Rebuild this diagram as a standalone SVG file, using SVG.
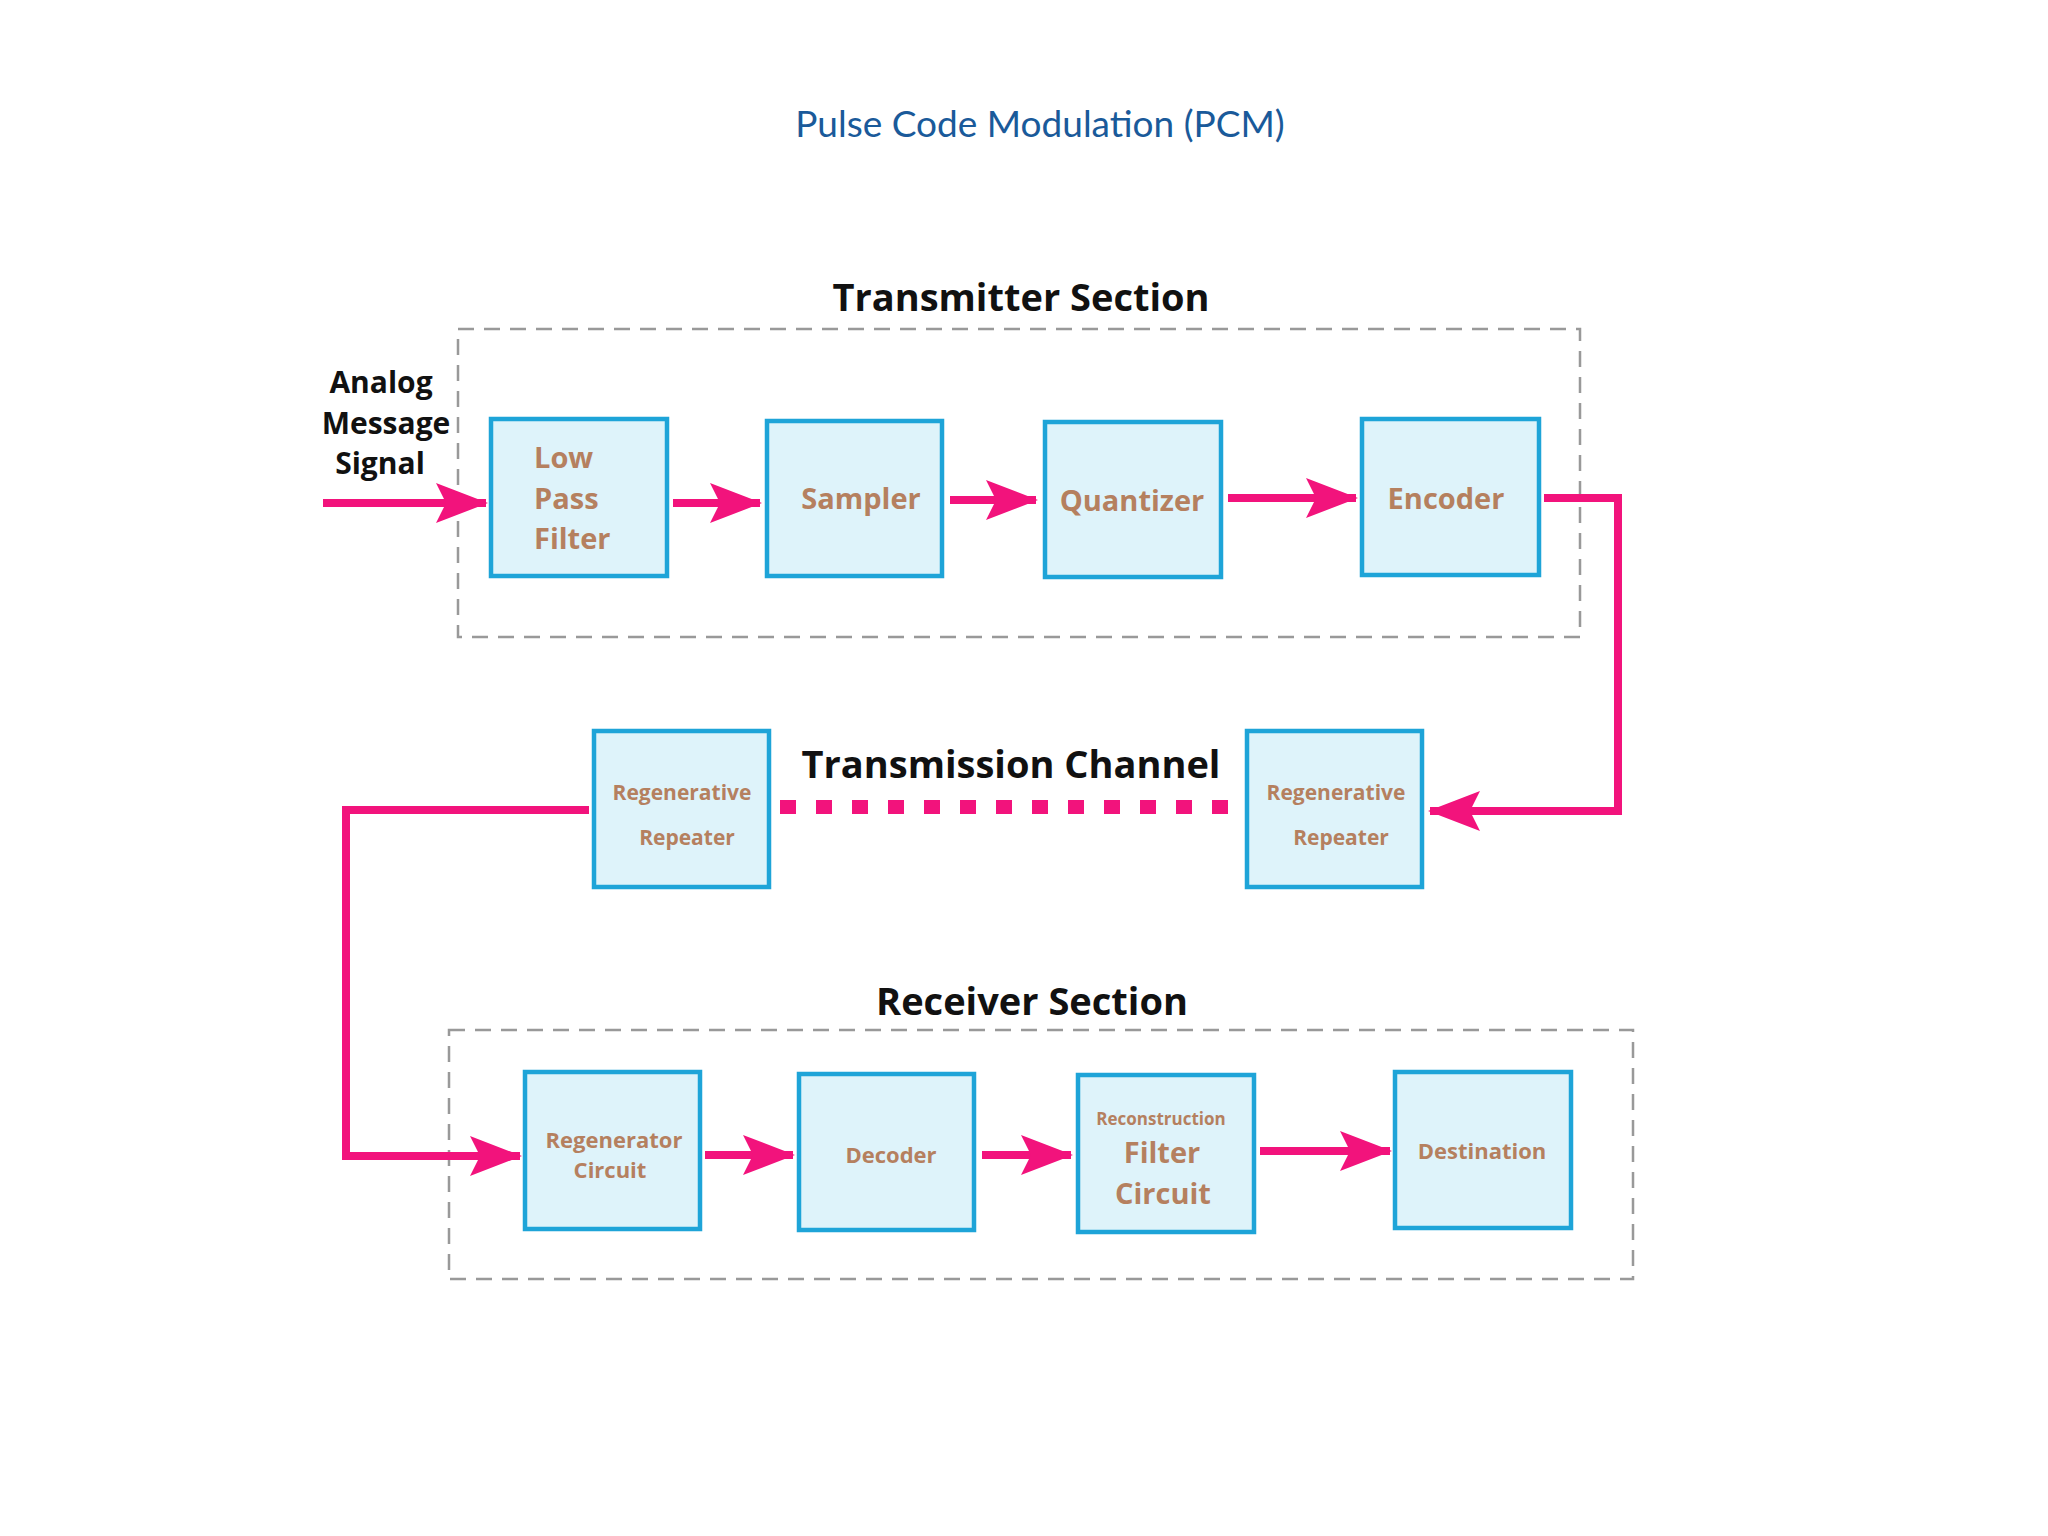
<svg xmlns="http://www.w3.org/2000/svg" width="2048" height="1536" viewBox="0 0 2048 1536">
<style>
.box{fill:#def3fa;stroke:#1ea4d8;stroke-width:4.5}
.sec{fill:none;stroke:#999;stroke-width:2.5;stroke-dasharray:16 10}
.bt{font-family:"Open Sans",sans-serif;font-weight:bold;fill:#b5805f;text-anchor:middle}
.hd{font-family:"Open Sans",sans-serif;font-weight:bold;fill:#111;text-anchor:middle;font-size:38px}
.ln{fill:none;stroke:#f2137c;stroke-width:8}
</style>
<defs>
<marker id="ah" markerUnits="userSpaceOnUse" markerWidth="52" markerHeight="40" refX="50" refY="20" orient="auto">
<path d="M0,0 L52,20 L0,40 L10,20 Z" fill="#f2137c"/>
</marker>
</defs>
<rect width="2048" height="1536" fill="#fff"/>
<text x="1040" y="137" font-family="Lato,sans-serif" font-size="37" fill="#1a5a9a" text-anchor="middle">Pulse Code Modulation (PCM)</text>
<g id="transmitter-section">
<rect class="sec" x="458" y="329" width="1122" height="308"/>
<text class="hd" x="1021" y="311">Transmitter Section</text>
</g>
<g id="receiver-section">
<rect class="sec" x="449" y="1030" width="1184" height="249"/>
<text class="hd" x="1032" y="1015">Receiver Section</text>
</g>
<g id="analog"><text class="hd" font-size="30" style="font-size:30px"><tspan x="381" y="393">Analog</tspan><tspan x="386" y="434">Message</tspan><tspan x="380" y="474">Signal</tspan></text></g>
<g id="channel-label"><text class="hd" x="1011" y="778">Transmission Channel</text></g>
<g id="connectors">
<line class="ln" x1="323" y1="503" x2="486" y2="503" marker-end="url(#ah)"/>
<line class="ln" x1="673" y1="503" x2="760" y2="503" marker-end="url(#ah)"/>
<line class="ln" x1="950" y1="500" x2="1036" y2="500" marker-end="url(#ah)"/>
<line class="ln" x1="1228" y1="498" x2="1356" y2="498" marker-end="url(#ah)"/>
<polyline class="ln" points="1544,498 1618,498 1618,811 1430,811" marker-end="url(#ah)"/>
<line x1="780" y1="807" x2="1238" y2="807" stroke="#f2137c" stroke-width="14" stroke-dasharray="16 20"/>
<polyline class="ln" points="589,810 346,810 346,1156 520,1156" marker-end="url(#ah)"/>
<line class="ln" x1="705" y1="1155" x2="793" y2="1155" marker-end="url(#ah)"/>
<line class="ln" x1="982" y1="1155" x2="1071" y2="1155" marker-end="url(#ah)"/>
<line class="ln" x1="1260" y1="1151" x2="1390" y2="1151" marker-end="url(#ah)"/>
</g>
<g id="lpf"><rect class="box" x="491" y="419" width="176" height="157"/><text class="bt" font-size="29" text-anchor="start" style="text-anchor:start"><tspan x="534" y="468">Low</tspan><tspan x="534" y="509">Pass</tspan><tspan x="534" y="549">Filter</tspan></text></g>
<g id="sampler"><rect class="box" x="767" y="421" width="175" height="155"/><text class="bt" x="861" y="509" font-size="29">Sampler</text></g>
<g id="quantizer"><rect class="box" x="1045" y="422" width="176" height="155"/><text class="bt" x="1132" y="511" font-size="29">Quantizer</text></g>
<g id="encoder"><rect class="box" x="1362" y="419" width="177" height="156"/><text class="bt" x="1446" y="509" font-size="29">Encoder</text></g>
<g id="repeater-left"><rect class="box" x="594" y="731" width="175" height="156"/><text class="bt" font-size="21"><tspan x="682" y="800">Regenerative</tspan><tspan x="687" y="845">Repeater</tspan></text></g>
<g id="repeater-right"><rect class="box" x="1247" y="731" width="175" height="156"/><text class="bt" font-size="21"><tspan x="1336" y="800">Regenerative</tspan><tspan x="1341" y="845">Repeater</tspan></text></g>
<g id="regenerator"><rect class="box" x="525" y="1072" width="175" height="157"/><text class="bt" font-size="22"><tspan x="614" y="1148">Regenerator</tspan><tspan x="610" y="1178">Circuit</tspan></text></g>
<g id="decoder"><rect class="box" x="799" y="1074" width="175" height="156"/><text class="bt" x="891" y="1163" font-size="22">Decoder</text></g>
<g id="reconstruction"><rect class="box" x="1078" y="1075" width="176" height="157"/><text class="bt" x="1161" y="1125" font-size="17">Reconstruction</text><text class="bt" font-size="29"><tspan x="1162" y="1163">Filter</tspan><tspan x="1163" y="1204">Circuit</tspan></text></g>
<g id="destination"><rect class="box" x="1395" y="1072" width="176" height="156"/><text class="bt" x="1482" y="1159" font-size="22">Destination</text></g>
</svg>
